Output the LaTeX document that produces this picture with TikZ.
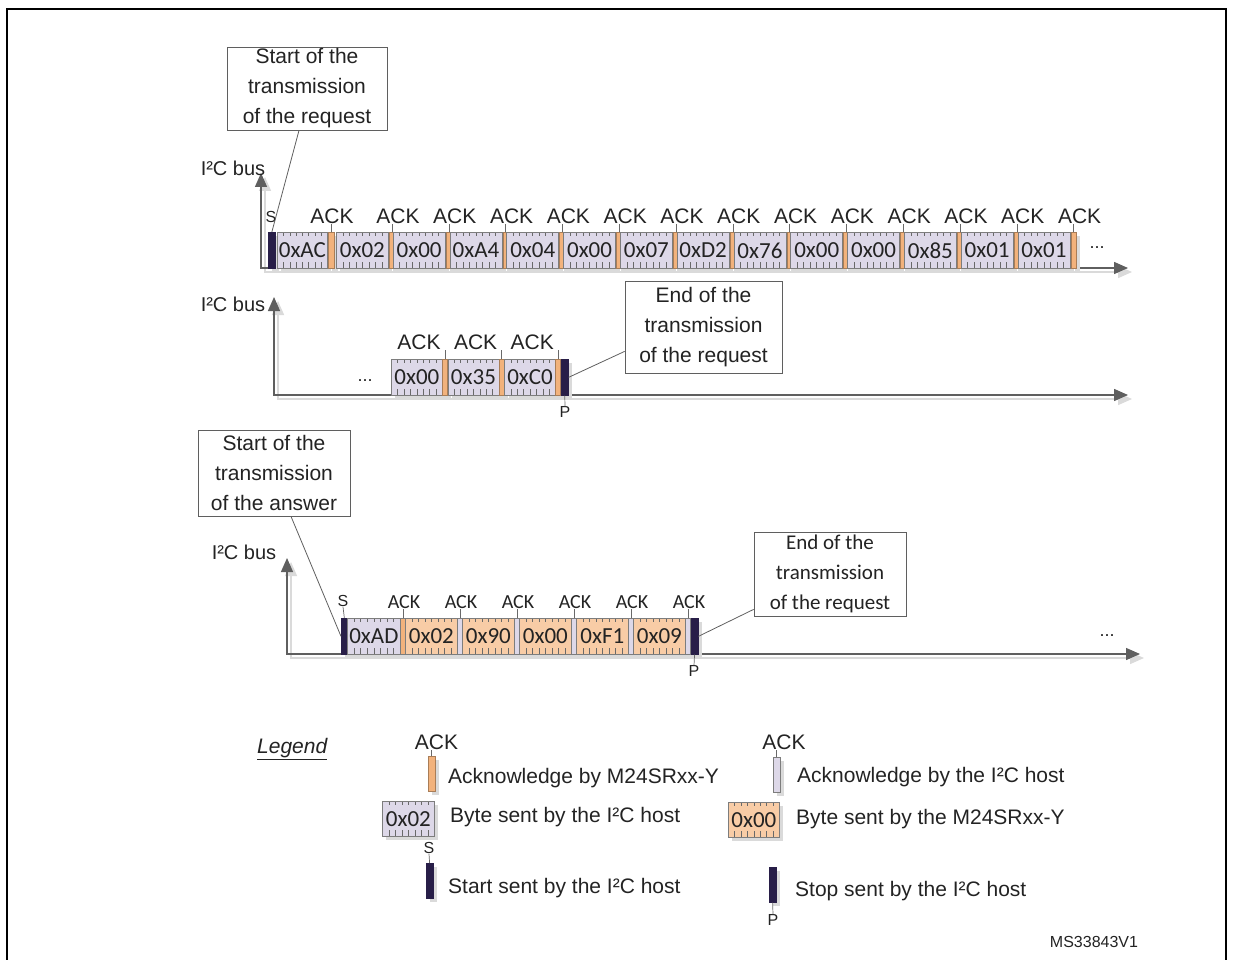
\documentclass[tikz,border=0pt]{standalone}
\usepackage{fontspec}
\setmainfont{Liberation Sans}
\newfontfamily\calib{Carlito}
\usetikzlibrary{arrows.meta,positioning,calc,shadows}

\definecolor{hostfill}{RGB}{221,216,232}
\definecolor{devfill}{RGB}{248,204,166}
\definecolor{ackfill}{RGB}{242,178,124}
\definecolor{barfill}{RGB}{40,30,72}
\definecolor{edgec}{RGB}{125,125,125}
\definecolor{tickc}{RGB}{105,105,105}
\definecolor{axisc}{RGB}{95,95,95}
\definecolor{shadowc}{RGB}{218,218,218}
\definecolor{txtc}{RGB}{35,35,35}

\tikzset{
  box/.style={draw=edgec, line width=0.7pt, inner sep=0pt, anchor=north west,
    minimum height=36pt,
    drop shadow={shadow xshift=4pt, shadow yshift=-4pt, fill=shadowc, opacity=1}},
  bits/.style={path picture={
    \foreach \k in {1,...,7} {
      \draw[tickc, line width=0.6pt]
        ($(path picture bounding box.north west)!\k/8!(path picture bounding box.north east)$) -- ++(0,-4pt);
      \draw[tickc, line width=0.6pt]
        ($(path picture bounding box.south west)!\k/8!(path picture bounding box.south east)$) -- ++(0,6pt);
    }}},
  hostbyte/.style={box, bits, fill=hostfill, minimum width=52pt, font=\calib\fontsize{23}{23}\selectfont},
  devbyte/.style={box, bits, fill=devfill, minimum width=52pt, font=\calib\fontsize{23}{23}\selectfont},
  devack/.style={box, fill=ackfill, draw=ackfill!70!black, minimum width=5.5pt},
  hostack/.style={box, fill=hostfill, minimum width=5pt},
  bar/.style={box, fill=barfill, draw=barfill, minimum width=7pt},
  acklab/.style={inner sep=0pt, font=\fontsize{21}{21}\selectfont},
  acklabc/.style={inner sep=0pt, font=\calib\fontsize{20}{20}\selectfont},
  sp/.style={inner sep=0pt, font=\fontsize{16}{16}\selectfont},
  dots/.style={inner sep=0pt, font=\fontsize{18}{18}\selectfont},
  buslab/.style={inner sep=0pt, font=\fontsize{20}{20}\selectfont},
  legtext/.style={inner sep=0pt, anchor=base west, font=\fontsize{21}{21}\selectfont},
  callout/.style={draw=axisc, line width=0.8pt, fill=white, inner sep=0pt, align=center,
    font=\fontsize{21}{30}\selectfont},
  tickline/.style={draw=tickc, line width=0.7pt},
  callline/.style={draw=axisc, line width=0.8pt},
  axisline/.style={draw=axisc, line width=1.4pt, {Triangle[width=12pt,length=14pt]}-{Triangle[width=12pt,length=14pt]}},
  axshadow/.style={axisline, draw=shadowc, transform canvas={shift={(4pt,-4pt)}}}
}

\begin{document}
\begin{tikzpicture}[x=1pt,y=-1pt,every node/.append style={text=txtc}]
\useasboundingbox (0,0) rectangle (1233,960);
\draw[line width=1.7pt] (7,975) -- (7,9) -- (1226,9) -- (1226,975);

% first row: the request
\coordinate (o1) at (261,268);
\coordinate (t1) at (261,173);
\coordinate (e1) at (1128,268);
\draw[axshadow] (t1) -- (o1) -- (e1);
\draw[axisline] (t1) -- (o1) -- (e1);
\node[buslab] (bus1) at (233,168) {I²C bus};
\node[bar] (s1) at (268,232) {};
\node[hostbyte, minimum width=50pt] (b1-0) at (277,232) {0xAC};
\node[devack, minimum width=6pt] (a1-0) at (328,232) {};
\node[acklab] (k1-0) at (332,216) {ACK};
\draw[tickline] (a1-0.north) -- (a1-0.north |- k1-0.south);
\foreach \v [count=\i] in {0x02,0x00,0xA4,0x04,0x00,0x07,0xD2,0x76,0x00,0x00,0x85,0x01,0x01} {
  \pgfmathsetmacro\bx{336+56.8*(\i-1)}
  \node[hostbyte] (b1-\i) at (\bx,232) {\v};
  \node[devack] (a1-\i) at (\bx+53,232) {};
  \node[acklab] (k1-\i) at (\bx+62,216) {ACK};
  \draw[tickline] (a1-\i.north) -- (a1-\i.north |- k1-\i.south);
}
\node[sp] (sl1) at (271,217) {S};
\node[dots] (d1) at (1097,248) {...};
\node[callout, minimum width=160pt, minimum height=83pt] (c1) at (307,88.5)
  {Start of the\\transmission\\of the request};
\draw[callline] ($(c1.south)+(-8,0)$) -- (s1.north);

% second row: end of the request
\coordinate (o2) at (274,395);
\coordinate (t2) at (274,297);
\coordinate (e2) at (1128,395);
\draw[axshadow] (t2) -- (o2) -- (e2);
\draw[axisline] (t2) -- (o2) -- (e2);
\node[buslab] (bus2) at (233,304) {I²C bus};
\node[dots] (d2) at (365,381) {...};
\foreach \v [count=\i] in {0x00,0x35,0xC0} {
  \pgfmathsetmacro\bx{391+56.6*(\i-1)}
  \node[hostbyte, minimum width=51pt] (b2-\i) at (\bx,359) {\v};
  \node[devack, minimum width=5pt] (a2-\i) at (\bx+51,359) {};
  \node[acklab] (k2-\i) at (\bx+28,342) {ACK};
  \draw[tickline] (a2-\i.north) -- (a2-\i.north |- k2-\i.south);
}
\node[bar] (p2) at (a2-3.north east) {};
\node[sp] (pl2) at (565,412) {P};
\draw[tickline] (p2.south) -- (pl2.north);
\node[callout, minimum width=157pt, minimum height=92pt] (c2) at (703.5,327)
  {End of the\\transmission\\of the request};
\draw[callline] ($(c2.south west)+(0,-22)$) -- (p2.east);

% third row: the answer
\coordinate (o3) at (287,654);
\coordinate (t3) at (287,558);
\coordinate (e3) at (1140,654);
\draw[axshadow] (t3) -- (o3) -- (e3);
\draw[axisline] (t3) -- (o3) -- (e3);
\node[buslab] (bus3) at (244,552) {I²C bus};
\node[bar, minimum width=6pt] (s3) at (341,618) {};
\node[hostbyte, minimum width=53pt] (b3-0) at (347,618) {0xAD};
\node[devack, minimum width=5pt, draw=edgec] (a3-0) at (400,618) {};
\node[acklabc] (k3-0) at (404,602) {ACK};
\draw[tickline] (a3-0.north) -- (a3-0.north |- k3-0.south);
\foreach \v [count=\i] in {0x02,0x90,0x00,0xF1,0x09} {
  \pgfmathsetmacro\bx{405+57*(\i-1)}
  \node[devbyte] (b3-\i) at (\bx,618) {\v};
  \node[hostack] (a3-\i) at (\bx+52,618) {};
  \node[acklabc] (k3-\i) at (\bx+56,602) {ACK};
  \draw[tickline] (a3-\i.north) -- (a3-\i.north |- k3-\i.south);
}
\node[bar] (p3) at (a3-5.north east) {};
\node[sp] (sl3) at (343,601) {S};
\draw[tickline] (s3.north) -- (sl3.south);
\node[sp] (pl3) at (694,671) {P};
\draw[tickline] (p3.south) -- (pl3.north);
\node[dots] (d3) at (1107,636) {...};
\node[callout, minimum width=152pt, minimum height=86pt] (c3) at (274,473)
  {Start of the\\transmission\\of the answer};
\draw[callline] ($(c3.south)+(17,0)$) -- (s3.west);
\node[callout, font=\calib\fontsize{21}{30}\selectfont, minimum width=152pt, minimum height=84pt] (c4) at (830,574)
  {End of the\\transmission\\of the request};
\draw[callline] ($(c4.south west)+(0,-7)$) -- (p3.east);

% legend
\node[legtext, font=\itshape\fontsize{21}{21}\selectfont] (leg) at (257,753) {\underline{Legend}};
\node[devack, minimum width=6.5pt, minimum height=35pt] (lg1) at (428,756) {};
\node[acklab] (lk1) at (436.5,742) {ACK};
\draw[tickline] (lg1.north) -- (lg1.north |- lk1.south);
\node[legtext] (lt1) at (448,783.5) {Acknowledge by M24SRxx-Y};
\node[hostbyte, minimum width=52pt, minimum height=35pt] (lg2) at (382,801) {0x02};
\node[legtext] (lt2) at (450,822) {Byte sent by the I²C host};
\node[bar, minimum width=6.5pt, minimum height=35pt] (lg3) at (426,863) {};
\node[sp] (ls3) at (429,848) {S};
\draw[tickline] (lg3.north) -- (ls3.south);
\node[legtext] (lt3) at (448,893) {Start sent by the I²C host};
\node[hostack, minimum width=6.5pt, minimum height=35pt] (lg4) at (773,757) {};
\node[acklab] (lk4) at (784,742) {ACK};
\draw[tickline] (lg4.north) -- (lg4.north |- lk4.south);
\node[legtext] (lt4) at (797,782) {Acknowledge by the I²C host};
\node[devbyte, minimum width=51pt, minimum height=35pt] (lg5) at (728,802) {0x00};
\node[legtext] (lt5) at (796,824) {Byte sent by the M24SRxx-Y};
\node[bar, minimum width=6.5pt, minimum height=35pt] (lg6) at (769,867) {};
\node[sp] (ls6) at (773,920) {P};
\draw[tickline] (lg6.south) -- (ls6.north);
\node[legtext] (lt6) at (795,896) {Stop sent by the I²C host};

\node[inner sep=0pt, font=\fontsize{16}{16}\selectfont] (ref) at (1094,942) {MS33843V1};
\end{tikzpicture}
\end{document}
